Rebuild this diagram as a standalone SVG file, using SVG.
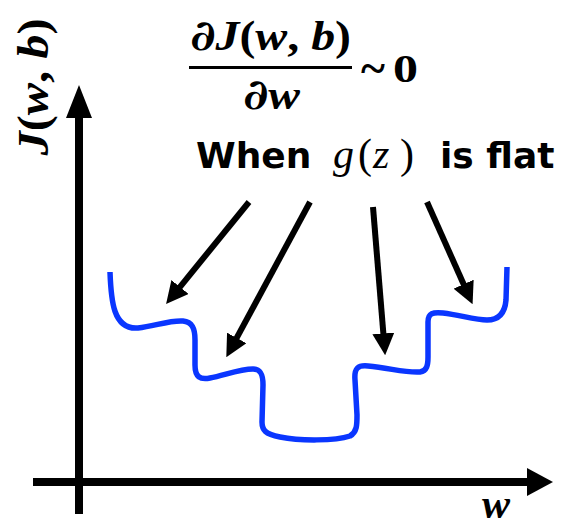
<svg xmlns="http://www.w3.org/2000/svg" width="564" height="526" viewBox="0 0 564 526">
<style>
.math{font-family:"Liberation Serif","Times New Roman",serif;font-weight:bold;font-style:italic;fill:#000}
.up{font-style:normal}
.pd{font-family:"DejaVu Serif",serif;font-weight:bold;font-style:italic}
.txt{font-family:"DejaVu Sans","Liberation Sans",sans-serif;font-weight:bold;fill:#000}
.gz{font-family:"Liberation Serif","Times New Roman",serif;font-style:italic;fill:#000}
.axis{stroke:#000;stroke-width:8;fill:none}
.arrow{stroke:#000;stroke-width:6;fill:none;marker-end:url(#ah)}
.curve{stroke:#0a36ff;stroke-width:5.5;fill:none;stroke-linecap:butt;stroke-linejoin:round}
</style>
<defs>
<marker id="ah" markerUnits="userSpaceOnUse" markerWidth="22" markerHeight="22" viewBox="0 0 20 20" refX="6" refY="10" orient="auto">
<path d="M0,0 L20,10 L0,20 z" fill="#000"/>
</marker>
</defs>
<rect width="564" height="526" fill="#fff"/>
<g id="axes">
<line class="axis" x1="79" y1="514" x2="79" y2="112"/>
<polygon points="79,85 66,118 92,118" fill="#000"/>
<line class="axis" x1="33" y1="482" x2="530" y2="482"/>
<polygon points="553,482 527,468 527,496" fill="#000"/>
</g>
<g id="y-label">
<text class="math" font-size="44" text-anchor="middle" textLength="137" lengthAdjust="spacingAndGlyphs" transform="translate(48,87) rotate(-90)">J<tspan class="up">(</tspan>w<tspan class="up">,</tspan> b<tspan class="up">)</tspan></text>
</g>
<g id="x-label">
<text class="math" font-size="42" x="482" y="518">w</text>
</g>
<g id="fraction">
<text class="math" font-size="42" x="190" y="50" textLength="161" lengthAdjust="spacingAndGlyphs"><tspan class="pd">∂</tspan>J<tspan class="up">(</tspan>w<tspan class="up">,</tspan> b<tspan class="up">)</tspan></text>
<rect x="189" y="66" width="163" height="3" fill="#000"/>
<text class="math" font-size="42" x="243" y="109" textLength="57" lengthAdjust="spacingAndGlyphs"><tspan class="pd">∂</tspan>w</text>
<text font-family="Liberation Serif, serif" font-weight="bold" font-size="46" x="361" y="84">~</text>
<text font-family="Liberation Serif, serif" font-weight="bold" font-size="40" x="393" y="82" textLength="25" lengthAdjust="spacingAndGlyphs">0</text>
</g>
<g id="caption">
<text class="txt" font-size="36" x="196" y="168">When</text>
<text class="gz" font-size="42" x="333 358 373 400" y="168">g<tspan class="up">(</tspan>z<tspan class="up">)</tspan></text>
<text class="txt" font-size="36" x="440" y="168">is flat</text>
</g>
<g id="curve">
<path class="curve" d="M110,272 C111,300 113,330 138,328 C155,326 170,320 183,321 C192,322 195,328 195,340 L195,365 C195,377 200,380 210,378 C225,375 240,369 253,369 C261,369 263,375 263,385 L262,422 C262,430 265,434 280,437 C300,441 335,441 350,436 C357,432 357,425 357,415 L355,380 C354,368 358,365 368,366 C390,368 405,373 420,372 C427,371 428,365 428,357 L428,322 C428,313 433,312 443,313 C460,315 475,320 487,320 C500,320 505,312 506,300 L507,267"/>
</g>
<g id="connectors">
<line class="arrow" x1="249" y1="202" x2="175.8" y2="292.1"/>
<line class="arrow" x1="310" y1="202" x2="233.6" y2="343.7"/>
<line class="arrow" x1="373" y1="207" x2="383.9" y2="340"/>
<line class="arrow" x1="427" y1="202" x2="466.3" y2="290.2"/>
</g>
</svg>
